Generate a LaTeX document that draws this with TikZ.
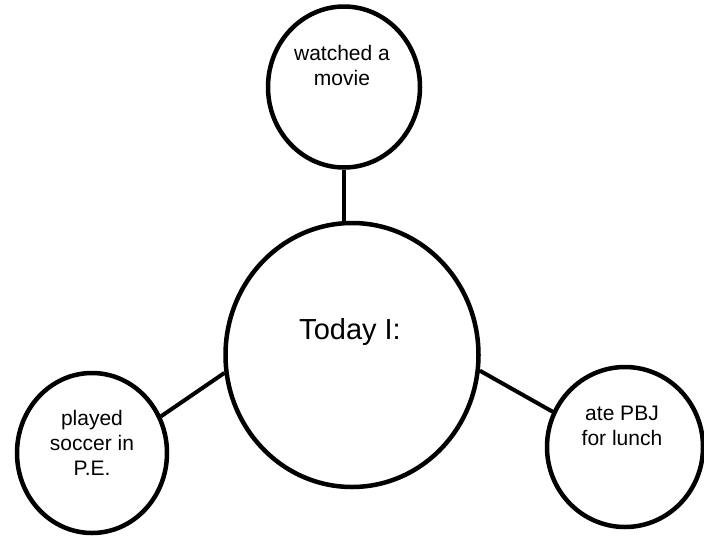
\documentclass[tikz,border=0pt]{standalone}
\usepackage{fontspec}
\setmainfont{Liberation Sans}
\usepackage{tikz}
\usetikzlibrary{shapes.geometric, positioning, calc}

\begin{document}
\begin{tikzpicture}[x=1pt, y=-1pt,
    bubble/.style={draw, ellipse, line width=4.5pt, inner sep=0pt},
    bubbletext/.style={align=center, font=\fontsize{21}{25}\selectfont},
    link/.style={line width=4pt}]
        \useasboundingbox (0,0) rectangle (704,536);

        % Centre bubble
        \node[bubble, minimum width=253pt, minimum height=264pt] (today) at (352,355) {};
        \node[font=\fontsize{29}{33}\selectfont] (todaytext) at (350,332) {Today I:};

        % Top bubble : movie
        \node[bubble, minimum width=152pt, minimum height=161pt] (movie) at (344,87) {};
        \node[bubbletext] (movietext) at (342,65) {watched a\\movie};

        % Left bubble : soccer
        \node[bubble, minimum width=150pt, minimum height=160pt] (soccer) at (92,453) {};
        \node[bubbletext] (soccertext) at (92,443) {played\\soccer in\\P.E.};

        % Right bubble : lunch
        \node[bubble, minimum width=156pt, minimum height=160pt] (lunch) at (625,447) {};
        \node[bubbletext] (lunchtext) at (622,426) {ate PBJ\\for lunch};

        % Connectors
        \draw[link] (movie.south) -- (movie.south |- today.north);
        \draw[link] (today.188) -- (soccer.28);
        \draw[link] (today.353) -- (lunch.154);
      \end{tikzpicture}
\end{document}
